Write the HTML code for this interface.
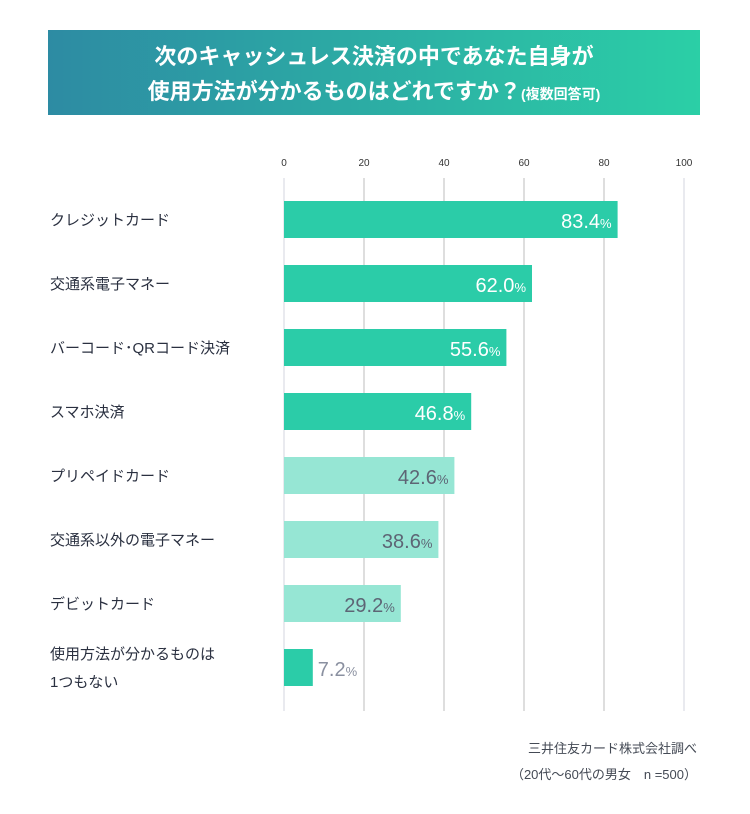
<!DOCTYPE html>
<html><head><meta charset="utf-8"><style>
body{margin:0;width:750px;height:809px;background:#fff;font-family:"Liberation Sans","Noto Sans CJK JP",sans-serif;overflow:hidden}
</style></head><body>
<svg id="chart" width="750" height="809" xmlns="http://www.w3.org/2000/svg">
<defs><linearGradient id="g" x1="0" x2="1"><stop offset="0" stop-color="#2d8ba3"/><stop offset="1" stop-color="#2bcfa6"/></linearGradient></defs>
<rect x="48" y="30" width="652" height="85" fill="url(#g)"/>
<text x="374" y="64" text-anchor="middle" fill="#fff" font-size="22" font-weight="bold">次のキャッシュレス決済の中であなた自身が</text>
<text x="374" y="99" text-anchor="middle" fill="#fff" font-size="22" font-weight="bold">使用方法が分かるものはどれですか？<tspan font-size="14">(複数回答可)</tspan></text>
<g id="grid"></g><g id="bars"></g>
<text x="697" y="753" text-anchor="end" fill="#444a55" font-size="13">三井住友カード株式会社調べ</text>
<text x="697" y="779" text-anchor="end" fill="#444a55" font-size="13">（20代〜60代の男女　n =500）</text>
</svg>
<script>
const categories=["クレジットカード","交通系電子マネー","バーコード･QRコード決済","スマホ決済","プリペイドカード","交通系以外の電子マネー","デビットカード","使用方法が分かるものは|1つもない"];
const values=[83.4,62.0,55.6,46.8,42.6,38.6,29.2,7.2];
const dark=[true,true,true,true,false,false,false,true];
const ticks=[0,20,40,60,80,100];
const NS="http://www.w3.org/2000/svg";
const x=v=>284+v*4, y=i=>201+i*64;
function mk(t,a,p){const e=document.createElementNS(NS,t);for(const k in a)e.setAttribute(k,a[k]);p.appendChild(e);return e;}
const G=document.getElementById('grid'),B=document.getElementById('bars');
ticks.forEach(t=>{
 const l=mk('line',{x1:x(t),x2:x(t),y1:178,y2:711,stroke:(t==0||t==100)?'#e2e4ea':'#d4d4d4','stroke-width':1.5},G);
 
 const tx=mk('text',{x:x(t),y:166,'text-anchor':'middle','font-size':10,fill:'#333'},G);tx.textContent=t;
 
});
values.forEach((v,i)=>{
 const r=mk('rect',{x:x(0),y:y(i),width:x(v)-x(0),height:37,fill:dark[i]?'#2bcca8':'#96e6d4'},B);
 
 const parts=categories[i].split('|');
 parts.forEach((p,j)=>{const t=mk('text',{x:50,y:y(i)+24+(parts.length>1?(j*28-14):0),'font-size':15,fill:'#2a3040'},B);t.textContent=p;
 });
 const inside=v>20;
 const lt=mk('text',{x:inside?x(v)-6:x(v)+5,y:y(i)+27,'text-anchor':inside?'end':'start','font-size':20,fill:(inside&&dark[i])?'#fff':(inside?'#5d6575':'#8a90a0')},B);
 lt.innerHTML=v.toFixed(1)+'<tspan font-size="13">%</tspan>';
 
});
</script>
</body></html>
